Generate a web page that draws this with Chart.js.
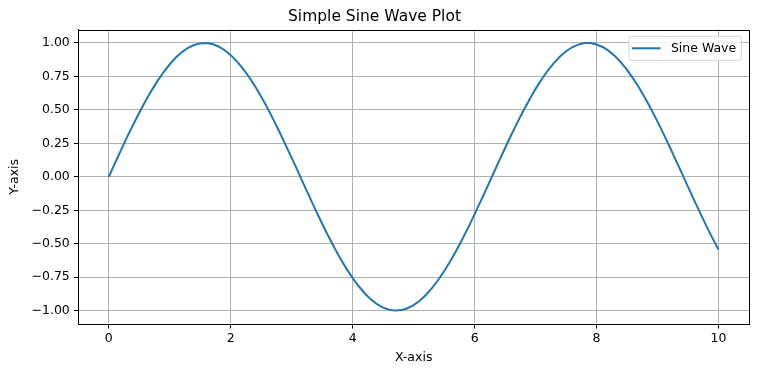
<!DOCTYPE html>
<html>
<head>
<meta charset="utf-8">
<script src="https://cdn.jsdelivr.net/npm/chart.js@4.4.1/dist/chart.umd.min.js"></script>
<style>
  html, body { margin: 0; padding: 0; background: #fff; }
  #c { display: block; }
</style>
</head>
<body>
<canvas id="c" width="758" height="374"></canvas>
<script>
// ---- Data ----
const chartTitle = "Simple Sine Wave Plot";
const seriesLabel = "Sine Wave";
const xAxisLabel = "X-axis";
const yAxisLabel = "Y-axis";

const xValues = [
  0.0, 0.1, 0.2, 0.3, 0.4, 0.5, 0.6, 0.7, 0.8, 0.9,
  1.0, 1.1, 1.2, 1.3, 1.4, 1.5, 1.6, 1.7, 1.8, 1.9,
  2.0, 2.1, 2.2, 2.3, 2.4, 2.5, 2.6, 2.7, 2.8, 2.9,
  3.0, 3.1, 3.2, 3.3, 3.4, 3.5, 3.6, 3.7, 3.8, 3.9,
  4.0, 4.1, 4.2, 4.3, 4.4, 4.5, 4.6, 4.7, 4.8, 4.9,
  5.0, 5.1, 5.2, 5.3, 5.4, 5.5, 5.6, 5.7, 5.8, 5.9,
  6.0, 6.1, 6.2, 6.3, 6.4, 6.5, 6.6, 6.7, 6.8, 6.9,
  7.0, 7.1, 7.2, 7.3, 7.4, 7.5, 7.6, 7.7, 7.8, 7.9,
  8.0, 8.1, 8.2, 8.3, 8.4, 8.5, 8.6, 8.7, 8.8, 8.9,
  9.0, 9.1, 9.2, 9.3, 9.4, 9.5, 9.6, 9.7, 9.8, 9.9,
  10.0
];
const yValues = [
  0.000, 0.100, 0.199, 0.296, 0.389, 0.479, 0.565, 0.644, 0.717, 0.783,
  0.841, 0.891, 0.932, 0.964, 0.985, 0.997, 1.000, 0.992, 0.974, 0.946,
  0.909, 0.863, 0.808, 0.746, 0.676, 0.598, 0.516, 0.427, 0.335, 0.239,
  0.141, 0.042, -0.058, -0.158, -0.256, -0.351, -0.443, -0.530, -0.612, -0.688,
  -0.757, -0.818, -0.872, -0.916, -0.952, -0.978, -0.994, -1.000, -0.996, -0.982,
  -0.959, -0.926, -0.883, -0.832, -0.773, -0.706, -0.631, -0.551, -0.465, -0.374,
  -0.279, -0.182, -0.083, 0.017, 0.117, 0.215, 0.312, 0.405, 0.494, 0.578,
  0.657, 0.729, 0.794, 0.850, 0.899, 0.938, 0.968, 0.988, 0.999, 0.999,
  0.989, 0.970, 0.941, 0.902, 0.855, 0.799, 0.734, 0.663, 0.585, 0.501,
  0.412, 0.319, 0.223, 0.125, 0.025, -0.075, -0.174, -0.272, -0.367, -0.458,
  -0.544
];
const xTicks = [0, 2, 4, 6, 8, 10];
const yTicks = [-1.00, -0.75, -0.50, -0.25, 0.00, 0.25, 0.50, 0.75, 1.00];

// ---- Styling ----
const FONT = "'DejaVu Sans', 'Liberation Sans', sans-serif";
Chart.defaults.font.family = FONT;
Chart.defaults.color = '#000';

function fmtY(v) {
  const s = Math.abs(v).toFixed(2);
  return (v < -1e-9 ? '\u2212' : '') + s;
}

const framePlugin = {
  id: 'frame',
  afterDatasetsDraw(chart) {
    const {ctx, chartArea: a} = chart;
    ctx.save();
    ctx.strokeStyle = '#000';
    ctx.lineWidth = 1;
    ctx.strokeRect(Math.round(a.left) + 0.5, Math.round(a.top) + 0.5,
                   Math.round(a.right) - Math.round(a.left), Math.round(a.bottom) - Math.round(a.top));
    ctx.restore();
  }
};

const legendPlugin = {
  id: 'boxLegend',
  afterDraw(chart) {
    const {ctx, chartArea: a} = chart;
    const ds = chart.data.datasets[0];
    ctx.save();
    ctx.font = "12.5px " + FONT;
    const tw = ctx.measureText(ds.label).width;
    const right = a.right - 7.3;
    const top = a.top + 6.7;
    const h = 24;
    const w = 3 + 28.7 + 10.3 + tw + 5.5;
    const left = right - w;
    const r = 3;
    ctx.beginPath();
    ctx.moveTo(left + r, top);
    ctx.lineTo(right - r, top);
    ctx.quadraticCurveTo(right, top, right, top + r);
    ctx.lineTo(right, top + h - r);
    ctx.quadraticCurveTo(right, top + h, right - r, top + h);
    ctx.lineTo(left + r, top + h);
    ctx.quadraticCurveTo(left, top + h, left, top + h - r);
    ctx.lineTo(left, top + r);
    ctx.quadraticCurveTo(left, top, left + r, top);
    ctx.closePath();
    ctx.fillStyle = 'rgba(255,255,255,0.8)';
    ctx.fill();
    ctx.strokeStyle = '#d4d4d4';
    ctx.lineWidth = 1;
    ctx.stroke();
    const ly = top + h / 2;
    ctx.beginPath();
    ctx.moveTo(left + 3, ly);
    ctx.lineTo(left + 3 + 28.7, ly);
    ctx.strokeStyle = ds.borderColor;
    ctx.lineWidth = ds.borderWidth;
    ctx.stroke();
    ctx.fillStyle = '#000';
    ctx.textBaseline = 'middle';
    ctx.textAlign = 'left';
    ctx.fillText(ds.label, left + 3 + 28.7 + 10.3, ly + 0.5);
    ctx.restore();
  }
};

new Chart(document.getElementById('c'), {
  type: 'line',
  data: {
    datasets: [{
      label: seriesLabel,
      data: xValues.map((x, i) => ({x: x, y: yValues[i]})),
      borderColor: '#1f77b4',
      borderWidth: 2,
      pointRadius: 0,
      tension: 0,
      fill: false
    }]
  },
  options: {
    responsive: false,
    animation: false,
    devicePixelRatio: 1,
    layout: { padding: { top: 0, right: 9, bottom: 0, left: 0 } },
    plugins: {
      legend: { display: false },
      tooltip: { enabled: false },
      title: {
        display: true,
        text: chartTitle,
        color: '#000',
        font: { size: 15.5, weight: 'normal', family: FONT },
        padding: { top: 8, bottom: 3 }
      }
    },
    scales: {
      x: {
        type: 'linear',
        min: -0.5,
        max: 10.5,
        afterBuildTicks: (s) => { s.ticks = xTicks.map(v => ({value: v})); },
        afterFit: (s) => { s.height = 50; },
        ticks: {
          autoSkip: false,
          maxRotation: 0,
          padding: 3,
          color: '#000',
          font: { size: 12.5, family: FONT },
          callback: (v) => String(v)
        },
        grid: { color: '#b0b0b0', lineWidth: 1, tickColor: '#000', tickLength: 4.5, drawTicks: true },
        border: { display: true, color: '#000', width: 1 },
        title: {
          display: true,
          text: xAxisLabel,
          color: '#000',
          font: { size: 12.5, family: FONT },
          padding: { top: 0, bottom: 9 }
        }
      },
      y: {
        type: 'linear',
        min: -1.1,
        max: 1.1,
        afterBuildTicks: (s) => { s.ticks = yTicks.map(v => ({value: v})); },
        afterFit: (s) => { s.width = 78.3; },
        ticks: {
          autoSkip: false,
          padding: 4,
          color: '#000',
          font: { size: 12.5, family: FONT },
          callback: (v) => fmtY(v)
        },
        grid: { color: '#b0b0b0', lineWidth: 1, tickColor: '#000', tickLength: 4.5, drawTicks: true },
        border: { display: true, color: '#000', width: 1 },
        title: {
          display: true,
          text: yAxisLabel,
          color: '#000',
          font: { size: 12.5, family: FONT },
          padding: { top: 7.5, bottom: 0 }
        }
      }
    }
  },
  plugins: [framePlugin, legendPlugin]
});
</script>
</body>
</html>
